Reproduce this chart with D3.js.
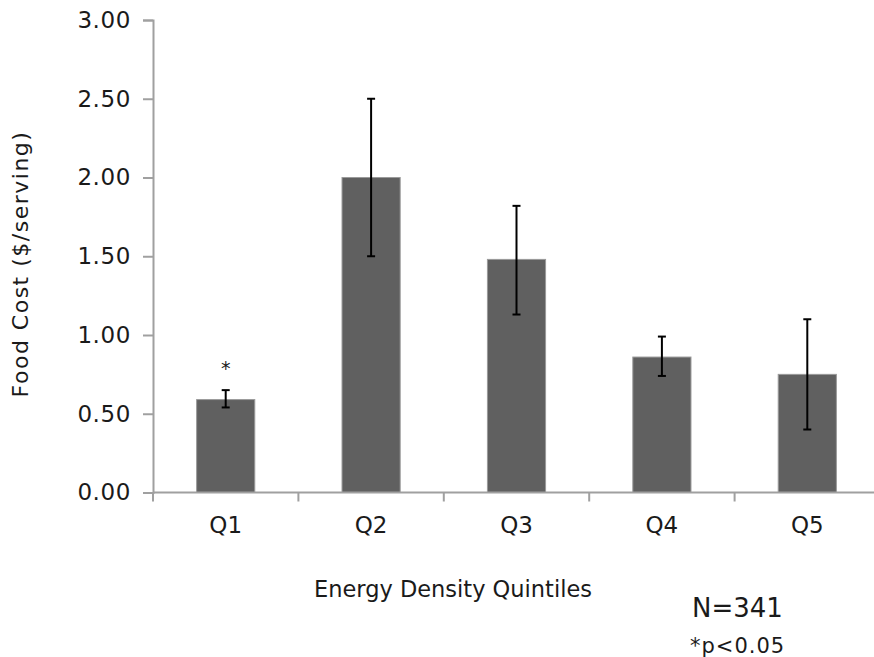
<!DOCTYPE html>
<html>
<head>
<meta charset="utf-8">
<script src="https://cdn.jsdelivr.net/npm/d3@7/dist/d3.min.js"></script>
<style>
  html, body { margin: 0; padding: 0; background: #fff; }
  svg { display: block; }
  text { font-family: "DejaVu Sans", Verdana, sans-serif; fill: #1a1a1a; }
</style>
</head>
<body>
<svg id="chart" width="874" height="657"></svg>
<script>
// Mean food cost per serving by energy density quintile, with error bars
const categories = ["Q1", "Q2", "Q3", "Q4", "Q5"];
const meanCost   = [0.59, 2.00, 1.48, 0.86, 0.75];
const errLow     = [0.54, 1.50, 1.13, 0.74, 0.40];
const errHigh    = [0.65, 2.50, 1.82, 0.99, 1.10];
const significant = [true, false, false, false, false];
const yTicks     = [0, 0.5, 1.0, 1.5, 2.0, 2.5, 3.0];

const svg = d3.select("#chart");
const plotLeft = 153, plotRight = 880, plotTop = 20, plotBottom = 492.5;

const x = d3.scaleBand()
  .domain(categories)
  .range([plotLeft, plotRight])
  .paddingInner(0.6)
  .paddingOuter(0.3);

const y = d3.scaleLinear().domain([0, 3]).range([plotBottom, plotTop]);

const axisColor = "#a0a0a0";

// Y axis
const yAxis = svg.append("g")
  .attr("transform", `translate(${plotLeft},0)`)
  .call(d3.axisLeft(y).tickValues(yTicks).tickFormat(d3.format(".2f")).tickSizeOuter(0).tickSize(10).tickPadding(12));
yAxis.select(".domain").attr("stroke", axisColor).attr("stroke-width", 2);
yAxis.selectAll(".tick line").attr("stroke", axisColor).attr("stroke-width", 2);
yAxis.selectAll(".tick text")
  .attr("font-size", 23)
  .attr("letter-spacing", 0.6)
  .attr("fill", "#1a1a1a")
  .attr("font-family", "DejaVu Sans, Verdana, sans-serif");

// Bars
svg.append("g").selectAll("rect")
  .data(categories)
  .join("rect")
  .attr("x", d => x(d))
  .attr("width", x.bandwidth())
  .attr("y", (d, i) => y(meanCost[i]))
  .attr("height", (d, i) => y(0) - y(meanCost[i]))
  .attr("fill", "#606060")
  .attr("stroke", "#9a9a9a")
  .attr("stroke-width", 1);

// Error bars
const eb = svg.append("g").attr("stroke", "#000").attr("stroke-width", 2);
categories.forEach((c, i) => {
  const cx = x(c) + x.bandwidth() / 2;
  eb.append("line").attr("x1", cx).attr("x2", cx).attr("y1", y(errLow[i])).attr("y2", y(errHigh[i]));
  eb.append("line").attr("x1", cx - 4).attr("x2", cx + 4).attr("y1", y(errLow[i])).attr("y2", y(errLow[i]));
  eb.append("line").attr("x1", cx - 4).attr("x2", cx + 4).attr("y1", y(errHigh[i])).attr("y2", y(errHigh[i]));
});

// Significance markers
categories.forEach((c, i) => {
  if (!significant[i]) return;
  svg.append("text")
    .attr("x", x(c) + x.bandwidth() / 2)
    .attr("y", y(errHigh[i]) - 15)
    .attr("text-anchor", "middle")
    .attr("font-size", 19)
    .text("*");
});

// X axis baseline and boundary ticks
const xg = svg.append("g");
xg.append("line")
  .attr("x1", plotLeft).attr("x2", plotRight)
  .attr("y1", plotBottom).attr("y2", plotBottom)
  .attr("stroke", axisColor).attr("stroke-width", 2);
const step = x.step();
const boundaries = d3.range(categories.length + 1).map(k => plotLeft + k * step);
xg.selectAll("line.b")
  .data(boundaries)
  .join("line")
  .attr("class", "b")
  .attr("x1", d => d).attr("x2", d => d)
  .attr("y1", plotBottom).attr("y2", plotBottom + 9)
  .attr("stroke", axisColor).attr("stroke-width", 2);
xg.selectAll("text")
  .data(categories)
  .join("text")
  .attr("x", d => x(d) + x.bandwidth() / 2)
  .attr("y", 533)
  .attr("text-anchor", "middle")
  .attr("font-size", 23)
  .text(d => d);

// Axis titles
svg.append("text")
  .attr("x", 453).attr("y", 597)
  .attr("text-anchor", "middle")
  .attr("font-size", 22.5)
  .attr("fill", "#2a2a2a")
  .text("Energy Density Quintiles");

svg.append("text")
  .attr("transform", "translate(28,264) rotate(-90)")
  .attr("text-anchor", "middle")
  .attr("font-size", 22)
  .attr("letter-spacing", 1.5)
  .attr("fill", "#2a2a2a")
  .text("Food Cost ($/serving)");

// Notes
svg.append("text")
  .attr("x", 692).attr("y", 617)
  .attr("font-size", 26)
  .attr("fill", "#000")
  .text("N=341");

svg.append("text")
  .attr("x", 690).attr("y", 653)
  .attr("font-size", 21)
  .attr("letter-spacing", 1)
  .text("*p<0.05");
</script>
</body>
</html>
